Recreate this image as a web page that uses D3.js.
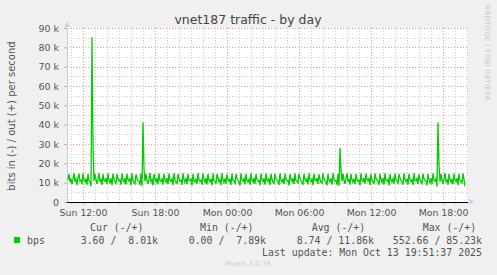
<!DOCTYPE html>
<html>
<head>
<meta charset="utf-8">
<script src="https://cdn.jsdelivr.net/npm/d3@7"></script>
<style>
body { margin: 0; background: #f0f0f0; }
svg { display: block; }
</style>
</head>
<body>
<svg></svg>
<script>
// out (+) traffic, k bits/s, one sample every 5 minutes
const outValues = [
  11.4, 14.6, 10.2, 12.1, 9.3, 11.8, 14.9, 10.5, 11.9, 8.7, 12.6, 14.7, 10.8, 11.3, 9.1, 14.8, 11.6, 10.4, 12.2, 8.9,
  14.5, 11.1, 10.6, 8.2, 85.23, 30.4, 10.9, 14.6, 11.5, 9.4, 12.0, 14.9, 10.3, 11.7, 8.8, 14.4, 11.2, 10.7, 12.4, 9.2,
  14.8, 11.0, 10.1, 12.3, 8.6, 14.7, 11.8, 10.5, 9.7, 14.5, 12.1, 10.9, 11.4, 8.9, 14.9, 11.3, 10.2, 12.5, 9.0, 14.6,
  11.7, 10.8, 12.0, 8.7, 14.8, 11.1, 10.4, 9.5, 14.3, 12.2, 11.0, 10.6, 8.8, 14.7, 8.1, 41.2, 17.6, 10.7, 14.5, 11.2,
  9.3, 12.1, 14.9, 10.5, 11.6, 8.6, 14.4, 11.9, 10.3, 12.4, 9.1, 14.8, 11.0, 10.7, 11.8, 8.9, 14.6, 11.4, 10.2, 12.3,
  9.4, 14.7, 11.1, 10.6, 12.0, 8.7, 14.9, 11.5, 10.4, 9.6, 14.5, 12.2, 10.8, 11.3, 8.8, 14.8, 11.7, 10.1, 12.5, 9.2,
  14.4, 11.2, 10.9, 11.9, 8.5, 14.6, 11.0, 10.3, 12.1, 9.3, 14.9, 11.6, 10.7, 11.4, 8.9, 14.7, 11.8, 10.2, 12.3, 9.0,
  14.5, 11.3, 10.5, 12.0, 8.6, 14.8, 11.1, 10.8, 9.5, 14.6, 12.4, 10.4, 11.7, 8.7, 14.9, 11.5, 10.1, 12.2, 9.4, 14.3,
  11.9, 10.6, 12.1, 8.8, 14.7, 11.0, 10.9, 9.7, 14.5, 12.3, 11.4, 10.3, 8.5, 14.8, 11.6, 10.7, 12.0, 9.1, 14.6, 11.2,
  10.4, 11.8, 8.9, 14.9, 11.3, 10.2, 12.5, 9.3, 14.4, 11.7, 10.8, 11.1, 8.6, 14.7, 11.5, 10.5, 12.2, 9.0, 14.8, 11.0,
  10.6, 12.4, 8.7, 14.5, 11.9, 10.1, 9.6, 14.6, 12.0, 11.3, 10.7, 8.8, 14.9, 11.4, 10.3, 12.1, 9.2, 14.7, 11.6, 10.9,
  11.2, 8.5, 14.4, 11.8, 10.4, 12.3, 9.4, 14.8, 11.0, 10.8, 9.5, 14.6, 12.2, 11.1, 10.2, 8.9, 14.5, 11.7, 10.6, 12.0,
  9.1, 14.9, 11.5, 10.5, 11.9, 8.7, 14.7, 11.3, 10.9, 12.4, 9.3, 14.3, 11.8, 10.1, 9.7, 14.8, 12.1, 11.0, 10.7, 8.6,
  14.6, 11.4, 10.3, 12.2, 9.0, 14.9, 11.6, 10.8, 11.2, 8.8, 14.5, 8.3, 27.9, 16.2, 10.6, 14.7, 11.1, 9.4, 12.3, 14.8,
  10.4, 11.9, 8.9, 14.6, 11.5, 10.2, 12.0, 9.2, 14.4, 11.7, 10.7, 11.3, 8.6, 14.9, 11.0, 10.5, 12.5, 9.5, 14.7, 11.8,
  10.9, 12.1, 8.7, 14.5, 11.2, 10.3, 9.6, 14.8, 12.2, 11.4, 10.6, 8.8, 14.6, 11.6, 10.1, 12.3, 9.1, 14.9, 11.0, 10.8,
  11.7, 8.5, 14.4, 11.3, 10.4, 12.0, 9.4, 14.7, 11.9, 10.7, 9.7, 14.5, 12.4, 11.1, 10.2, 8.9, 14.8, 11.5, 10.6, 12.1,
  9.0, 14.6, 11.8, 10.5, 11.4, 8.7, 14.9, 11.0, 10.9, 12.2, 9.3, 14.3, 11.6, 10.3, 9.5, 14.7, 12.0, 11.2, 10.8, 8.6,
  14.5, 11.7, 10.1, 12.3, 9.2, 14.8, 11.3, 10.7, 11.9, 7.89, 41.2, 19.5, 10.4, 14.6, 11.1, 9.4, 12.2, 14.9, 10.6, 11.5,
  8.8, 14.4, 11.8, 10.2, 12.0, 9.1, 14.7, 11.4, 10.5, 12.4, 8.7, 14.6, 11.0, 10.9, 9.6, 14.8, 11.6, 8.01
];
const firstSample = new Date(2025, 9, 12, 10, 45); // Sun 10:45
const stepMinutes = 5;
const yTicks = [0, 10, 20, 30, 40, 50, 60, 70, 80, 90];
const legendHeaders = ["Cur (-/+)", "Min (-/+)", "Avg (-/+)", "Max (-/+)"];
const legendValues = ["3.60 /  8.01k", "0.00 /  7.89k", "8.74 / 11.86k", "552.66 / 85.23k"];
const seriesName = "bps";

const width = 497;
const height = 275;
const sans = "'DejaVu Sans', sans-serif";
const mono = "'DejaVu Sans Mono', monospace";
const majorColor = "#e3a0a0";
const minorColor = "#cccccc";

const svg = d3.select('svg')
    .attr("width", width)
    .attr("height", height);

const x = d3.scaleTime()
    .domain([new Date(2025, 9, 12, 10, 40), new Date(2025, 9, 13, 20, 5)])
    .range([67, 468]);

const y = d3.scaleLinear()
    .domain([0, 90])
    .range([202, 28]);

// plot background
svg.append('rect')
    .attr('x', x.range()[0]).attr('y', y(90))
    .attr('width', x.range()[1] - x.range()[0])
    .attr('height', y(0) - y(90))
    .attr('fill', '#ffffff');

const hours = x.ticks(d3.timeHour.every(1));
const sixHours = x.ticks(d3.timeHour.every(6));
const isMajor = (d) => d.getHours() % 6 === 0;

// minor grid
svg.append('g').selectAll('line')
    .data(hours.filter(d => !isMajor(d)))
    .enter().append('line')
    .attr('x1', d => Math.round(x(d)) + 0.5).attr('x2', d => Math.round(x(d)) + 0.5)
    .attr('y1', y(90)).attr('y2', y(0))
    .attr('stroke', minorColor).attr('stroke-dasharray', '1,2');

svg.append('g').selectAll('line')
    .data(d3.range(5, 90, 10))
    .enter().append('line')
    .attr('x1', x.range()[0]).attr('x2', x.range()[1])
    .attr('y1', d => Math.round(y(d)) + 0.5).attr('y2', d => Math.round(y(d)) + 0.5)
    .attr('stroke', minorColor).attr('stroke-dasharray', '1,2');

// major grid
svg.append('g').selectAll('line')
    .data(sixHours)
    .enter().append('line')
    .attr('x1', d => Math.round(x(d)) + 0.5).attr('x2', d => Math.round(x(d)) + 0.5)
    .attr('y1', y(90)).attr('y2', y(0))
    .attr('stroke', majorColor).attr('stroke-dasharray', '1,2');

svg.append('g').selectAll('line')
    .data(yTicks.filter(d => d > 0))
    .enter().append('line')
    .attr('x1', x.range()[0]).attr('x2', x.range()[1])
    .attr('y1', d => Math.round(y(d)) + 0.5).attr('y2', d => Math.round(y(d)) + 0.5)
    .attr('stroke', majorColor).attr('stroke-dasharray', '1,2');

// y axis
const yAxis = svg.append('g')
    .attr('transform', `translate(${x.range()[0]},0)`)
    .call(d3.axisLeft(y).tickValues(yTicks).tickSize(3).tickPadding(5)
        .tickFormat(d => d === 0 ? "0" : d + " k"));
yAxis.select('.domain').attr('stroke', '#c8cdf0');
yAxis.selectAll('.tick line').attr('stroke', majorColor);
yAxis.selectAll('text')
    .style('font-family', sans).style('font-size', '9.5px').attr('fill', '#555');

// x axis
const xAxis = svg.append('g')
    .attr('transform', `translate(0,${y(0)})`)
    .call(d3.axisBottom(x).tickValues(sixHours).tickSize(3).tickPadding(4)
        .tickFormat(d3.timeFormat("%a %H:%M")));
xAxis.select('.domain').remove();
xAxis.selectAll('.tick line').attr('stroke', majorColor);
xAxis.selectAll('text')
    .style('font-family', sans).style('font-size', '9.4px').attr('fill', '#555');

svg.append('g').selectAll('line')
    .data(hours.filter(d => !isMajor(d)))
    .enter().append('line')
    .attr('x1', d => Math.round(x(d)) + 0.5).attr('x2', d => Math.round(x(d)) + 0.5)
    .attr('y1', y(0)).attr('y2', y(0) + 2)
    .attr('stroke', '#bbb');

// arrows
svg.append('path')
    .attr('d', `M${x.range()[0] - 3},${y(90) - 1} L${x.range()[0] + 3},${y(90) - 1} L${x.range()[0]},${y(90) - 6} Z`)
    .attr('fill', '#c8cdf5');
svg.append('path')
    .attr('d', `M${x.range()[1] + 1},${y(0) - 3} L${x.range()[1] + 1},${y(0) + 3} L${x.range()[1] + 6},${y(0)} Z`)
    .attr('fill', '#c8cdf5');

// data line
const line = d3.line()
    .x((d, i) => x(d3.timeMinute.offset(firstSample, i * stepMinutes)))
    .y(d => y(d));

svg.append('path')
    .datum(outValues)
    .attr('d', line)
    .attr('fill', 'none')
    .attr('stroke', '#00cc00')
    .attr('stroke-width', 1.3);

// zero line
svg.append('line')
    .attr('x1', x.range()[0]).attr('x2', x.range()[1])
    .attr('y1', y(0) + 0.5).attr('y2', y(0) + 0.5)
    .attr('stroke', '#000');

// title
svg.append('text')
    .attr('x', 248).attr('y', 24)
    .attr('text-anchor', 'middle')
    .style('font-family', sans).style('font-size', '12.5px')
    .attr('fill', '#444')
    .text('vnet187 traffic - by day');

// vertical axis label
svg.append('text')
    .attr('transform', `translate(15,116) rotate(-90)`)
    .attr('text-anchor', 'middle')
    .style('font-family', sans).style('font-size', '10px')
    .attr('fill', '#555')
    .text('bits in (-) / out (+) per second');

svg.append('text')
    .attr('transform', `translate(484.5,5) rotate(90)`)
    .attr('text-anchor', 'start')
    .attr('textLength', 96)
    .style('font-family', sans).style('font-size', '7.2px')
    .attr('fill', '#c8c8c8')
    .text('RRDTOOL / TOBI OETIKER');

// legend
const headerX = [90, 200, 311.7, 422.7];
const valueX = [158, 266, 374, 482];

svg.append('g').selectAll('text')
    .data(legendHeaders)
    .enter().append('text')
    .attr('x', (d, i) => headerX[i]).attr('y', 230.5)
    .style('font-family', mono).style('font-size', '9.9px').style('white-space', 'pre')
    .attr('fill', '#555')
    .text(d => d);

svg.append('rect')
    .attr('x', 14).attr('y', 237).attr('width', 6).attr('height', 6)
    .attr('fill', '#00cc00');

svg.append('text')
    .attr('x', 27).attr('y', 243.5)
    .style('font-family', mono).style('font-size', '9.9px')
    .attr('fill', '#555')
    .text(seriesName);

svg.append('g').selectAll('text')
    .data(legendValues)
    .enter().append('text')
    .attr('x', (d, i) => valueX[i]).attr('y', 243.5)
    .attr('text-anchor', 'end')
    .style('font-family', mono).style('font-size', '9.9px').style('white-space', 'pre')
    .attr('fill', '#555')
    .text(d => d);

svg.append('text')
    .attr('x', 482).attr('y', 255.5)
    .attr('text-anchor', 'end')
    .style('font-family', mono).style('font-size', '9.9px').style('white-space', 'pre')
    .attr('fill', '#555')
    .text('Last update: Mon Oct 13 19:51:37 2025');

svg.append('text')
    .attr('x', 248).attr('y', 266)
    .attr('text-anchor', 'middle')
    .style('font-family', sans).style('font-size', '7px')
    .attr('fill', '#cccccc')
    .text('Munin 2.0.76');
</script>
</body>
</html>
